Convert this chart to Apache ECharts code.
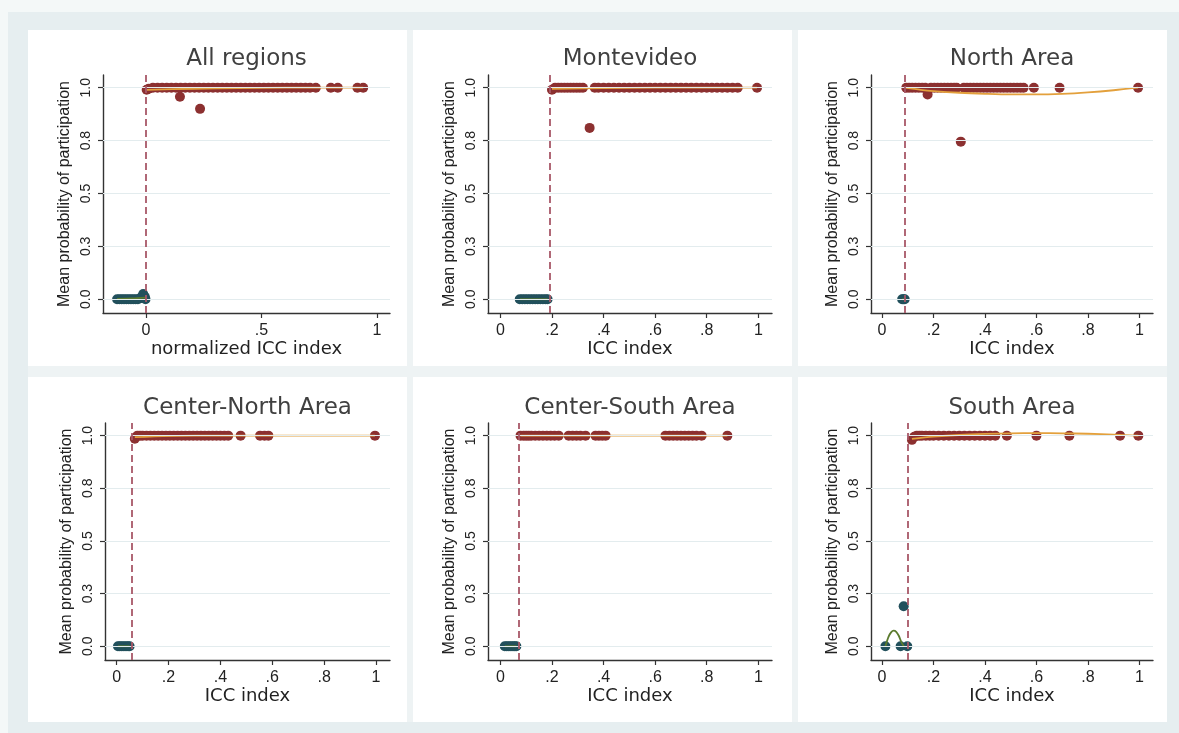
<!DOCTYPE html>
<html>
<head>
<meta charset="utf-8">
<script src="https://cdn.jsdelivr.net/npm/echarts@6/dist/echarts.min.js"></script>
<style>
html,body{margin:0;padding:0;width:1179px;height:733px;overflow:hidden;background:#f4f8f8;}
#outer{position:absolute;left:8px;top:12px;width:1171px;height:721px;background:#e6eef0;}
#inner{position:absolute;left:28px;top:30px;width:1139px;height:692px;background:#eef3f4;}
.panel{position:absolute;background:#ffffff;}
#chart{position:absolute;left:0;top:0;width:1179px;height:733px;}
</style>
</head>
<body>
<div id="outer"></div>
<div id="inner"></div>
<div class="panel" style="left:28px;top:30px;width:379px;height:336px"></div>
<div class="panel" style="left:413px;top:30px;width:379px;height:336px"></div>
<div class="panel" style="left:798px;top:30px;width:369px;height:336px"></div>
<div class="panel" style="left:28px;top:377px;width:379px;height:345px"></div>
<div class="panel" style="left:413px;top:377px;width:379px;height:345px"></div>
<div class="panel" style="left:798px;top:377px;width:369px;height:345px"></div>
<div id="chart"></div>
<script>
// ---------------- data ----------------
const titles = ['All regions', 'Montevideo', 'North Area', 'Center-North Area', 'Center-South Area', 'South Area'];
const xNames = ['normalized ICC index', 'ICC index', 'ICC index', 'ICC index', 'ICC index', 'ICC index'];
const cutoffs = [0, 0.19, 0.087, 0.058, 0.069, 0.103];

const xTicksNorm = [0, 0.5, 1];
const xTickLabelsNorm = ['0', '.5', '1'];
const xTicks = [0, 0.2, 0.4, 0.6, 0.8, 1];
const xTickLabels = ['0', '.2', '.4', '.6', '.8', '1'];
const yTicks = [0, 0.25, 0.5, 0.75, 1];
const yTickLabels = ['0.0', '0.3', '0.5', '0.8', '1.0'];

// All regions
const allBlue = [[-0.125,0],[-0.115,0],[-0.105,0],[-0.095,0],[-0.085,0],[-0.075,0],[-0.065,0],[-0.055,0],[-0.045,0],[-0.035,0],[-0.025,0.005],[-0.018,0.01],[-0.012,0.025],[-0.005,0.012],[-0.002,0]];
const allRed = [[0.003,0.99],[0.012,0.995],[0.03,1],[0.05,1],[0.07,1],[0.09,1],[0.11,1],[0.13,1],[0.147,0.957],[0.15,1],[0.17,1],[0.19,1],[0.21,1],[0.23,1],[0.234,0.90],[0.25,1],[0.27,1],[0.29,1],[0.31,1],[0.33,1],[0.35,1],[0.37,1],[0.39,1],[0.41,1],[0.43,1],[0.45,1],[0.47,1],[0.49,1],[0.51,1],[0.53,1],[0.55,1],[0.57,1],[0.59,1],[0.61,1],[0.63,1],[0.65,1],[0.67,1],[0.69,1],[0.71,1],[0.735,1],[0.80,1],[0.83,1],[0.915,1],[0.94,1]];
const allBlueFit = [[-0.125,0.002],[-0.06,0.004],[-0.002,0.008]];
const allRedFit = [[0.003,0.99],[0.2,0.995],[0.4,0.998],[0.6,1],[0.8,1],[0.94,1]];

// Montevideo
const mvdBlue = [[0.075,0],[0.085,0],[0.095,0],[0.105,0],[0.115,0],[0.125,0],[0.135,0],[0.145,0],[0.155,0],[0.165,0],[0.175,0],[0.183,0]];
const mvdRed = [[0.2,0.99],[0.212,1],[0.224,1],[0.236,1],[0.248,1],[0.26,1],[0.272,1],[0.284,1],[0.296,1],[0.308,1],[0.32,1],[0.346,0.81],[0.366,1],[0.38,1],[0.40,1],[0.42,1],[0.44,1],[0.46,1],[0.48,1],[0.50,1],[0.52,1],[0.54,1],[0.56,1],[0.58,1],[0.60,1],[0.62,1],[0.64,1],[0.66,1],[0.68,1],[0.70,1],[0.72,1],[0.74,1],[0.76,1],[0.78,1],[0.80,1],[0.82,1],[0.84,1],[0.86,1],[0.88,1],[0.90,1],[0.92,1],[0.995,1]];
const mvdBlueFit = [[0.075,0],[0.183,0]];
const mvdRedFit = [[0.2,0.995],[0.4,0.998],[0.6,1],[0.8,1],[0.995,1]];

// North Area
const northBlue = [[0.078,0],[0.083,0],[0.088,0]];
const northRed = [[0.094,1],[0.105,1],[0.117,1],[0.13,1],[0.143,1],[0.156,1],[0.168,1],[0.177,0.968],[0.19,1],[0.203,1],[0.216,1],[0.229,1],[0.242,1],[0.255,1],[0.268,1],[0.28,1],[0.29,1],[0.306,0.745],[0.318,1],[0.33,1],[0.343,1],[0.356,1],[0.369,1],[0.382,1],[0.395,1],[0.408,1],[0.421,1],[0.434,1],[0.447,1],[0.46,1],[0.473,1],[0.486,1],[0.499,1],[0.512,1],[0.525,1],[0.538,1],[0.55,1],[0.59,1],[0.69,1],[0.995,1]];
const northBlueFit = [[0.078,0],[0.088,0]];
const northRedFit = [[0.09,1.0],[0.15,0.99],[0.2,0.984],[0.3,0.976],[0.4,0.971],[0.5,0.968],[0.6,0.968],[0.7,0.971],[0.8,0.978],[0.9,0.988],[0.995,1.0]];

// Center-North Area
const cnBlue = [[0.005,0],[0.012,0],[0.02,0],[0.028,0],[0.036,0],[0.044,0],[0.05,0]];
const cnRed = [[0.07,0.985],[0.08,1],[0.09,1],[0.10,1],[0.115,1],[0.13,1],[0.145,1],[0.16,1],[0.175,1],[0.19,1],[0.205,1],[0.22,1],[0.235,1],[0.25,1],[0.265,1],[0.28,1],[0.295,1],[0.31,1],[0.325,1],[0.34,1],[0.355,1],[0.37,1],[0.385,1],[0.40,1],[0.415,1],[0.43,1],[0.478,1],[0.553,1],[0.57,1],[0.585,1],[0.996,1]];
const cnBlueFit = [[0.005,0],[0.05,0]];
const cnRedFit = [[0.07,0.993],[0.3,1.0],[0.6,1.0],[0.996,1.0]];

// Center-South Area
const csBlue = [[0.017,0],[0.025,0],[0.033,0],[0.041,0],[0.049,0],[0.056,0],[0.062,0]];
const csRed = [[0.078,1],[0.09,1],[0.10,1],[0.11,1],[0.12,1],[0.135,1],[0.15,1],[0.165,1],[0.18,1],[0.195,1],[0.21,1],[0.226,1],[0.265,1],[0.28,1],[0.295,1],[0.31,1],[0.33,1],[0.369,1],[0.382,1],[0.395,1],[0.408,1],[0.64,1],[0.655,1],[0.67,1],[0.685,1],[0.70,1],[0.715,1],[0.73,1],[0.745,1],[0.76,1],[0.78,1],[0.88,1]];
const csBlueFit = [[0.017,0],[0.062,0]];
const csRedFit = [[0.078,1],[0.5,1],[0.88,1]];

// South Area
const southBlue = [[0.013,0],[0.072,0],[0.084,0.19],[0.098,0]];
const southRed = [[0.116,0.98],[0.125,0.995],[0.135,1],[0.145,1],[0.155,1],[0.17,1],[0.185,1],[0.20,1],[0.22,1],[0.24,1],[0.26,1],[0.28,1],[0.30,1],[0.32,1],[0.34,1],[0.36,1],[0.38,1],[0.40,1],[0.42,1],[0.44,1],[0.485,1],[0.60,1],[0.728,1],[0.925,1],[0.996,1]];
const southBlueFit = [[0.013,0],[0.025,0.045],[0.035,0.066],[0.045,0.074],[0.055,0.069],[0.065,0.05],[0.075,0.02],[0.085,0]];
const southRedFit = [[0.116,0.985],[0.2,0.995],[0.3,1.003],[0.4,1.008],[0.5,1.011],[0.6,1.012],[0.7,1.011],[0.8,1.009],[0.9,1.005],[0.996,1.0]];

const blueSets = [allBlue, mvdBlue, northBlue, cnBlue, csBlue, southBlue];
const redSets = [allRed, mvdRed, northRed, cnRed, csRed, southRed];
const blueFits = [allBlueFit, mvdBlueFit, northBlueFit, cnBlueFit, csBlueFit, southBlueFit];
const redFits = [allRedFit, mvdRedFit, northRedFit, cnRedFit, csRedFit, southRedFit];

// ---------------- layout / style ----------------
const layout = [
  {left: 103, top: 75, width: 287, height: 238, xmin: -0.186, xmax: 1.056, titleTop: 48},
  {left: 488, top: 75, width: 284, height: 238, xmin: -0.048, xmax: 1.053, titleTop: 48},
  {left: 871, top: 75, width: 282, height: 238, xmin: -0.043, xmax: 1.053, titleTop: 48},
  {left: 105, top: 423, width: 285, height: 237, xmin: -0.045, xmax: 1.054, titleTop: 397},
  {left: 488, top: 423, width: 284, height: 237, xmin: -0.048, xmax: 1.053, titleTop: 397},
  {left: 871, top: 423, width: 282, height: 237, xmin: -0.043, xmax: 1.053, titleTop: 397}
];
const yMin = -0.065, yMax = 1.06;
const C = {
  blue: '#22505c', red: '#8c3030', orange: '#e3a03c', green: '#5b7b2e',
  cut: '#a85868', grid: '#e3ecee', axis: '#333333', text: '#222222', title: '#404040'
};

function fmt(ticks, labels) {
  return function (v) {
    for (let i = 0; i < ticks.length; i++) if (Math.abs(ticks[i] - v) < 1e-9) return labels[i];
    return '';
  };
}

const grids = [], xAxes = [], yAxes = [], series = [], titleOpts = [];
layout.forEach(function (L, i) {
  grids.push({left: L.left, top: L.top, width: L.width, height: L.height, containLabel: false});
  titleOpts.push({
    text: titles[i], left: L.left + L.width / 2, top: L.titleTop, textAlign: 'center', padding: 0,
    textStyle: {fontFamily: 'DejaVu Sans', fontSize: 23, fontWeight: 'normal', color: C.title}
  });
  const xt = i === 0 ? xTicksNorm : xTicks;
  const xl = i === 0 ? xTickLabelsNorm : xTickLabels;
  xAxes.push({
    type: 'value', gridIndex: i, min: L.xmin, max: L.xmax,
    name: xNames[i], nameLocation: 'middle', nameGap: 27,
    nameTextStyle: {fontFamily: 'DejaVu Sans', fontSize: 18, color: C.text},
    axisLine: {show: true, onZero: false, lineStyle: {color: C.axis, width: 1.4}},
    axisTick: {show: true, length: 5, customValues: xt, lineStyle: {color: C.axis, width: 1.2}},
    axisLabel: {customValues: xt, formatter: fmt(xt, xl), margin: 10,
      fontFamily: 'Liberation Sans', fontSize: 16, color: C.text},
    splitLine: {show: false}
  });
  yAxes.push({
    type: 'value', gridIndex: i, min: yMin, max: yMax,
    name: 'Mean probability of participation', nameLocation: 'middle', nameGap: 30,
    nameTextStyle: {fontFamily: 'Liberation Sans', fontSize: 16, color: C.text},
    axisLine: {show: true, onZero: false, lineStyle: {color: C.axis, width: 1.4}},
    axisTick: {show: true, length: 5, customValues: yTicks, lineStyle: {color: C.axis, width: 1.2}},
    axisLabel: {customValues: yTicks, formatter: fmt(yTicks, yTickLabels), rotate: 90, margin: 10,
      fontFamily: 'Liberation Sans', fontSize: 14, color: C.text},
    splitLine: {show: false}
  });
  // gridlines + cutoff
  series.push({
    type: 'line', xAxisIndex: i, yAxisIndex: i, data: [], z: 1, silent: true,
    markLine: {
      silent: true, symbol: ['none', 'none'], animation: false, label: {show: false},
      data: yTicks.map(function (v) { return {yAxis: v, lineStyle: {color: C.grid, width: 1, type: 'solid'}}; })
        .concat([{xAxis: cutoffs[i], lineStyle: {color: C.cut, width: 1.8, type: [7, 4]}}])
    }
  });
  series.push({
    type: 'scatter', xAxisIndex: i, yAxisIndex: i, data: blueSets[i], symbolSize: 10, z: 3,
    itemStyle: {color: C.blue, opacity: 1}
  });
  series.push({
    type: 'scatter', xAxisIndex: i, yAxisIndex: i, data: redSets[i], symbolSize: 10, z: 3,
    itemStyle: {color: C.red, opacity: 1}
  });
  series.push({
    type: 'line', xAxisIndex: i, yAxisIndex: i, data: blueFits[i], showSymbol: false, smooth: 0.3, z: 4,
    lineStyle: {color: C.green, width: 1.8}
  });
  series.push({
    type: 'line', xAxisIndex: i, yAxisIndex: i, data: redFits[i], showSymbol: false, smooth: 0.3, z: 4,
    lineStyle: {color: C.orange, width: 1.8}
  });
});

const chart = echarts.init(document.getElementById('chart'), null, {renderer: 'canvas'});
chart.setOption({
  backgroundColor: 'transparent',
  animation: false,
  title: titleOpts,
  grid: grids,
  xAxis: xAxes,
  yAxis: yAxes,
  series: series
});
</script>
</body>
</html>
